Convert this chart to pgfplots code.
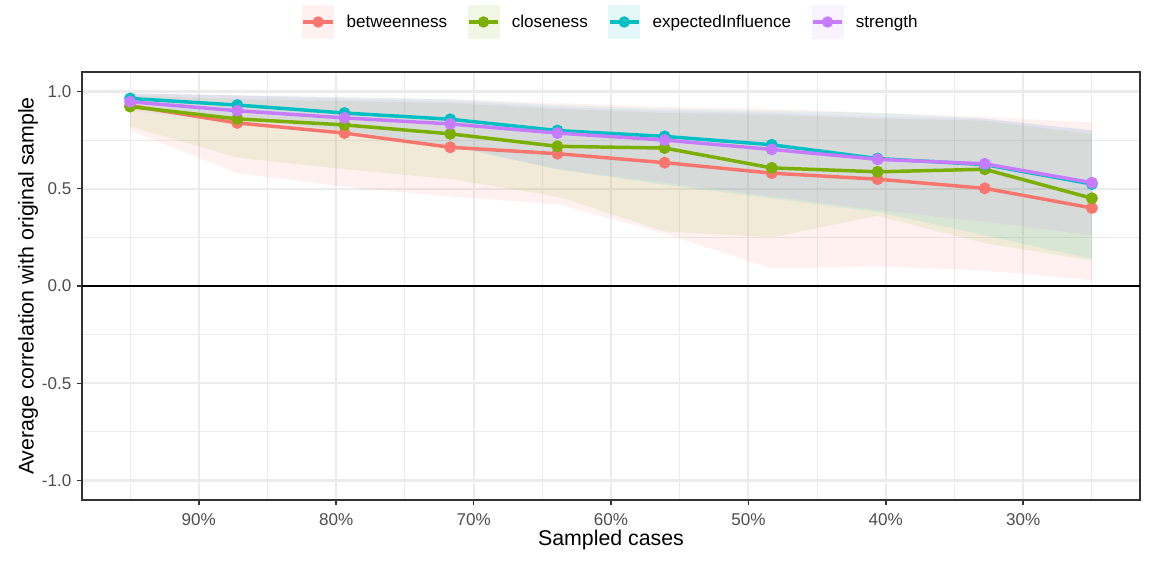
\documentclass[border=0pt]{standalone}
\usepackage{pgfplots}
\pgfplotsset{compat=1.18}
\usepackage{pgfplotstable}
\usepgfplotslibrary{fillbetween}
\usepackage{fontspec}
\setmainfont{Liberation Sans}
\definecolor{cB}{HTML}{F8766D}
\definecolor{cC}{HTML}{7CAE00}
\definecolor{cE}{HTML}{00BFC4}
\definecolor{cS}{HTML}{C77CFF}
\definecolor{gridc}{HTML}{EBEBEB}
\definecolor{tickc}{HTML}{4D4D4D}
\definecolor{borderc}{HTML}{333333}

\pgfplotstableread{
x mean lo hi
95.0 0.927 0.80 0.99
87.2 0.838 0.58 0.98
79.4 0.786 0.51 0.97
71.7 0.713 0.46 0.96
63.9 0.680 0.42 0.94
56.1 0.634 0.27 0.92
48.3 0.580 0.09 0.91
40.6 0.549 0.10 0.89
32.8 0.502 0.08 0.87
25.0 0.401 0.03 0.84
}\bet
\pgfplotstableread{
x mean lo hi
95.0 0.922 0.82 0.98
87.2 0.859 0.66 0.96
79.4 0.828 0.60 0.95
71.7 0.782 0.55 0.94
63.9 0.718 0.46 0.91
56.1 0.709 0.28 0.89
48.3 0.607 0.25 0.88
40.6 0.587 0.36 0.86
32.8 0.600 0.22 0.85
25.0 0.451 0.13 0.78
}\clo
\pgfplotstableread{
x mean lo hi
95.0 0.964 0.92 0.99
87.2 0.930 0.86 0.98
79.4 0.889 0.80 0.97
71.7 0.857 0.72 0.96
63.9 0.799 0.60 0.93
56.1 0.769 0.52 0.91
48.3 0.726 0.45 0.90
40.6 0.655 0.38 0.89
32.8 0.624 0.26 0.86
25.0 0.524 0.14 0.80
}\exi
\pgfplotstableread{
x mean lo hi
95.0 0.947 0.90 0.99
87.2 0.901 0.84 0.98
79.4 0.864 0.78 0.96
71.7 0.833 0.72 0.95
63.9 0.786 0.60 0.92
56.1 0.750 0.53 0.90
48.3 0.702 0.46 0.89
40.6 0.651 0.39 0.87
32.8 0.628 0.33 0.86
25.0 0.531 0.26 0.80
}\str

\begin{document}
\begin{tikzpicture}
\begin{axis}[
  at={(0,0)}, anchor=south west,
  scale only axis, width=793.5pt, height=321pt,
  x dir=reverse,
  xmin=21.5, xmax=98.5, ymin=-1.1, ymax=1.1,
  xtick={30,40,50,60,70,80,90},
  xticklabels={30\%,40\%,50\%,60\%,70\%,80\%,90\%},
  minor xtick={25,35,45,55,65,75,85,95},
  ytick={-1,-0.5,0,0.5,1},
  yticklabels={-1.0,-0.5,0.0,0.5,1.0},
  minor ytick={-0.75,-0.25,0.25,0.75},
  grid=both,
  major grid style={gridc, line width=1.6pt},
  minor grid style={gridc, line width=0.8pt},
  axis line style={borderc, line width=1.3pt},
  tick align=outside,
  major tick length=3.5pt, minor tick length=0pt,
  tick style={borderc, line width=1.1pt},
  xtick pos=bottom, ytick pos=left,
  ticklabel style={font=\fontsize{12.8}{15}\selectfont, text=tickc},
  x tick label style={yshift=-3pt},
  y tick label style={xshift=-1pt},
  every axis x label/.style={at={(axis description cs:0.5,0)}, anchor=center, yshift=-30pt},
  every axis y label/.style={at={([xshift=-40.5pt]axis description cs:0,0.5)}, anchor=center, rotate=90},
  label style={font=\fontsize{16}{19}\selectfont},
  xlabel={Sampled cases},
  ylabel={Average correlation with original sample},
  legend columns=4,
  legend style={draw=none, fill=none, at={(0.5,1)}, anchor=center, yshift=37.5pt,
    font=\fontsize{12.8}{15}\selectfont,
    /tikz/every odd column/.append style={column sep=7pt},
    /tikz/every even column/.append style={column sep=13pt}},
  legend image code/.code={
    \fill[fill opacity=0.1, draw=none] (0pt,-13pt) rectangle (24pt,13pt);
    \draw[line width=2.6pt] (1pt,0pt) -- (23pt,0pt);
    \fill (12pt,0pt) circle (2.9pt);
  },
]
% ribbons
\addplot[name path=bl, draw=none, forget plot] table[x=x,y=lo]{\bet};
\addplot[name path=bh, draw=none, forget plot] table[x=x,y=hi]{\bet};
\addplot[fill=cB, fill opacity=0.1, draw=none, forget plot] fill between[of=bh and bl];
\addplot[name path=cl, draw=none, forget plot] table[x=x,y=lo]{\clo};
\addplot[name path=ch, draw=none, forget plot] table[x=x,y=hi]{\clo};
\addplot[fill=cC, fill opacity=0.1, draw=none, forget plot] fill between[of=ch and cl];
\addplot[name path=el, draw=none, forget plot] table[x=x,y=lo]{\exi};
\addplot[name path=eh, draw=none, forget plot] table[x=x,y=hi]{\exi};
\addplot[fill=cE, fill opacity=0.1, draw=none, forget plot] fill between[of=eh and el];
\addplot[name path=sl, draw=none, forget plot] table[x=x,y=lo]{\str};
\addplot[name path=sh, draw=none, forget plot] table[x=x,y=hi]{\str};
\addplot[fill=cS, fill opacity=0.1, draw=none, forget plot] fill between[of=sh and sl];
% zero line
\addplot[black, line width=1.4pt, forget plot] coordinates {(21.5,0) (98.5,0)};
% lines
\addplot[cB, line width=2.6pt, mark=*, mark size=3.1pt] table[x=x,y=mean]{\bet};
\addlegendentry{betweenness}
\addplot[cC, line width=2.6pt, mark=*, mark size=3.1pt] table[x=x,y=mean]{\clo};
\addlegendentry{closeness}
\addplot[cE, line width=2.6pt, mark=*, mark size=3.1pt] table[x=x,y=mean]{\exi};
\addlegendentry{expectedInfluence}
\addplot[cS, line width=2.6pt, mark=*, mark size=3.1pt] table[x=x,y=mean]{\str};
\addlegendentry{strength}
\end{axis}
\pgfresetboundingbox
\path[use as bounding box] (-61.5pt,-49.5pt) rectangle (807.75pt,375pt);
\end{tikzpicture}
\end{document}
